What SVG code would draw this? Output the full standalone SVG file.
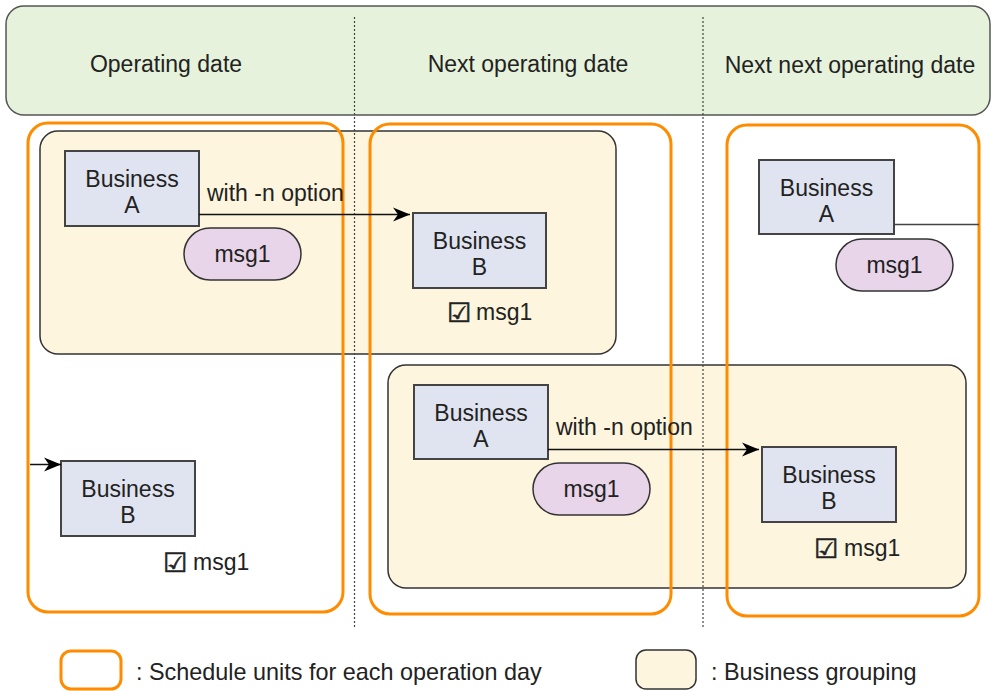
<svg xmlns="http://www.w3.org/2000/svg" width="992" height="691" viewBox="0 0 992 691">
<defs>
<style>
text{font-family:"Liberation Sans",Arial,sans-serif;font-size:23px;fill:#222}
.c{text-anchor:middle}
.hdr{fill:#e6f2db;stroke:#555;stroke-width:1.5}
.grp{fill:#fdf5dd;stroke:#333;stroke-width:1.5}
.unit{fill:none;stroke:#ff8c00;stroke-width:3}
.biz{fill:#e0e4f0;stroke:#444;stroke-width:2}
.pill{fill:#e9d5e9;stroke:#333;stroke-width:1.5}
.dot{stroke:#444;stroke-width:1.2;stroke-dasharray:2 2;fill:none}
.ln{stroke:#111;stroke-width:1.5;fill:none}
.chk{font-family:"DejaVu Sans",sans-serif;font-size:27px;fill:#222;stroke:#222;stroke-width:0.6}
.lg{font-size:23.4px}
</style>
<marker id="arr" markerUnits="userSpaceOnUse" markerWidth="20" markerHeight="16" viewBox="-18 -8 20 16" refX="0" refY="0" orient="auto">
<path d="M0,0 L-17,-7 L-12,0 L-17,7 Z" fill="#000"/>
</marker>
</defs>

<g id="header">
<rect class="hdr" x="6" y="6" width="984" height="109" rx="18"/>
<text class="c" x="166" y="72">Operating date</text>
<text class="c" x="528" y="72">Next operating date</text>
<text class="c" x="850" y="73">Next next operating date</text>
</g>

<g id="group1"><rect class="grp" x="40" y="131" width="576" height="223" rx="18"/></g>
<g id="group2"><rect class="grp" x="388" y="365" width="578" height="223" rx="18"/></g>

<g id="unit1"><rect class="unit" x="28" y="123" width="315" height="489" rx="20"/></g>
<g id="unit2"><rect class="unit" x="370" y="124" width="301" height="490" rx="20"/></g>
<g id="unit3"><rect class="unit" x="727" y="125" width="252" height="491" rx="20"/></g>

<g id="dividers">
<line class="dot" x1="354.5" y1="17" x2="354.5" y2="627"/>
<line class="dot" x1="703" y1="17" x2="703" y2="627"/>
</g>

<g id="bizA1">
<rect class="biz" x="65" y="151" width="134" height="75"/>
<text class="c" x="132" y="187">Business</text>
<text class="c" x="132" y="213">A</text>
</g>
<g id="msgA1">
<rect class="pill" x="184" y="228" width="117" height="52" rx="26"/>
<text class="c" x="242.5" y="262">msg1</text>
</g>

<g id="bizB1">
<rect class="biz" x="61" y="461" width="134" height="75"/>
<text class="c" x="128" y="497">Business</text>
<text class="c" x="128" y="523">B</text>
</g>
<g id="chkB1"><text x="163" y="572"><tspan class="chk">☑</tspan><tspan x="193" y="570">msg1</tspan></text></g>

<g id="bizB2">
<rect class="biz" x="413" y="213" width="133" height="75"/>
<text class="c" x="479.5" y="249">Business</text>
<text class="c" x="479.5" y="275">B</text>
</g>
<g id="chkB2"><text x="447" y="322"><tspan class="chk">☑</tspan><tspan x="476" y="320">msg1</tspan></text></g>

<g id="bizA2">
<rect class="biz" x="414" y="385" width="134" height="74"/>
<text class="c" x="481" y="421">Business</text>
<text class="c" x="481" y="447">A</text>
</g>
<g id="msgA2">
<rect class="pill" x="533" y="463" width="117" height="52" rx="26"/>
<text class="c" x="591.5" y="497">msg1</text>
</g>

<g id="bizA3">
<rect class="biz" x="759" y="160" width="135" height="74"/>
<text class="c" x="826.5" y="196">Business</text>
<text class="c" x="826.5" y="222">A</text>
</g>
<g id="msgA3">
<rect class="pill" x="836" y="239" width="117" height="52" rx="26"/>
<text class="c" x="894.5" y="273">msg1</text>
</g>

<g id="bizB3">
<rect class="biz" x="762" y="447" width="134" height="75"/>
<text class="c" x="829" y="483">Business</text>
<text class="c" x="829" y="509">B</text>
</g>
<g id="chkB3"><text x="814" y="558"><tspan class="chk">☑</tspan><tspan x="844" y="556">msg1</tspan></text></g>

<g id="connectors">
<line class="ln" x1="199" y1="214.5" x2="410" y2="214.5" marker-end="url(#arr)"/>
<text x="207" y="201">with -n option</text>
<line class="ln" x1="30" y1="464.5" x2="61" y2="464.5" marker-end="url(#arr)"/>
<line class="ln" x1="548" y1="449.5" x2="759" y2="449.5" marker-end="url(#arr)"/>
<text x="556" y="435">with -n option</text>
<line x1="894" y1="224.5" x2="979" y2="224.5" stroke="#444" stroke-width="1.5"/>
</g>

<g id="legend">
<rect class="unit" x="61" y="651" width="60" height="38" rx="10"/>
<text class="lg" x="136" y="680">: Schedule units for each operation day</text>
<rect class="grp" x="636" y="650" width="60" height="39" rx="10"/>
<text class="lg" x="711" y="680">: Business grouping</text>
</g>
</svg>
